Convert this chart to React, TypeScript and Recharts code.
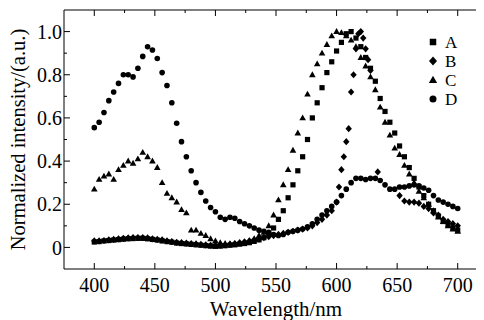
import React from 'react';
import { ScatterChart, Scatter, XAxis, YAxis, Legend } from 'recharts';

const wavelengths = [400,404,408,412,416,420,424,428,432,436,440,444,448,452,456,460,464,468,472,476,480,484,488,492,496,500,504,508,512,516,520,524,528,532,536,540,544,548,552,556,560,564,568,572,576,580,584,588,592,596,600,604,608,612,616,620,624,628,632,636,640,644,648,652,656,660,664,668,672,676,680,684,688,692,696,700];

const seriesA = [0.025,0.027,0.03,0.032,0.034,0.036,0.038,0.04,0.041,0.042,0.042,0.04,0.037,0.034,0.03,0.027,0.024,0.02,0.018,0.016,0.014,0.012,0.01,0.008,0.006,0.005,0.006,0.008,0.01,0.012,0.015,0.018,0.022,0.028,0.035,0.045,0.06,0.09,0.13,0.17,0.23,0.29,0.355,0.42,0.5,0.6,0.67,0.74,0.81,0.86,0.91,0.95,0.99,1.0,0.97,0.93,0.88,0.83,0.77,0.69,0.63,0.58,0.53,0.47,0.42,0.37,0.32,0.28,0.24,0.2,0.17,0.145,0.12,0.105,0.09,0.08];

const seriesC = [0.27,0.315,0.33,0.34,0.315,0.36,0.38,0.4,0.39,0.41,0.44,0.42,0.4,0.37,0.3,0.25,0.23,0.21,0.175,0.16,0.08,0.08,0.065,0.055,0.04,0.03,0.022,0.018,0.016,0.016,0.018,0.022,0.03,0.04,0.055,0.07,0.1,0.15,0.22,0.29,0.36,0.45,0.53,0.6,0.71,0.8,0.85,0.9,0.94,0.98,1.0,0.995,0.98,0.96,0.93,0.88,0.84,0.79,0.73,0.65,0.58,0.52,0.46,0.43,0.38,0.34,0.3,0.26,0.23,0.2,0.17,0.14,0.12,0.1,0.085,0.075];

const seriesD = [0.555,0.58,0.625,0.68,0.72,0.76,0.8,0.8,0.79,0.83,0.885,0.93,0.915,0.875,0.81,0.75,0.67,0.575,0.49,0.42,0.355,0.3,0.255,0.215,0.185,0.165,0.14,0.13,0.14,0.135,0.12,0.11,0.1,0.09,0.08,0.075,0.07,0.06,0.055,0.06,0.07,0.075,0.08,0.085,0.095,0.11,0.13,0.15,0.17,0.19,0.21,0.24,0.27,0.3,0.32,0.32,0.315,0.32,0.32,0.31,0.29,0.27,0.27,0.28,0.28,0.285,0.29,0.285,0.275,0.265,0.24,0.22,0.21,0.2,0.19,0.18];

const wavelengthsB = [400,404,408,412,416,420,424,428,432,436,440,444,448,452,456,460,464,468,472,476,480,484,488,492,496,500,504,508,512,516,520,524,528,532,536,540,544,548,552,556,560,564,568,572,576,580,584,588,592,596,600,602,604,606,608,610,612,614,616,618,620,622,624,626,628,634,652,656,660,664,668,672,676,680,684,688,692,696,700];

const seriesB = [0.03,0.03,0.032,0.035,0.037,0.04,0.042,0.044,0.046,0.046,0.046,0.044,0.04,0.037,0.035,0.03,0.027,0.024,0.022,0.02,0.018,0.016,0.014,0.012,0.01,0.01,0.01,0.012,0.015,0.018,0.022,0.026,0.03,0.035,0.04,0.045,0.05,0.055,0.06,0.065,0.07,0.075,0.08,0.085,0.09,0.1,0.115,0.13,0.15,0.17,0.21,0.28,0.36,0.42,0.49,0.55,0.72,0.8,0.92,0.99,1.0,0.97,0.92,0.87,0.82,0.35,0.24,0.215,0.21,0.21,0.205,0.19,0.18,0.16,0.15,0.13,0.12,0.11,0.1];

const xTicks = [400,425,450,475,500,525,550,575,600,625,650,675,700];
const yTicks = [0,0.1,0.2,0.3,0.4,0.5,0.6,0.7,0.8,0.9,1.0];
const seriesNames = ['A','B','C','D'];

const FONT = 'Liberation Serif, Tinos, DejaVu Serif, serif';
const INK = '#000';

const dataA = wavelengths.map((w, i) => ({ x: w, y: seriesA[i] }));
const dataB = wavelengthsB.map((w, i) => ({ x: w, y: seriesB[i] }));
const dataC = wavelengths.map((w, i) => ({ x: w, y: seriesC[i] }));
const dataD = wavelengths.map((w, i) => ({ x: w, y: seriesD[i] }));

const drawMarker = (name: string, cx: number, cy: number, s = 1) => {
  if (name === 'A') {
    const h = 2.6 * s;
    return <rect x={cx - h} y={cy - h} width={2 * h} height={2 * h} fill={INK} />;
  }
  if (name === 'B') {
    return <path d={`M${cx},${cy - 3.6 * s}L${cx + 3.2 * s},${cy}L${cx},${cy + 3.6 * s}L${cx - 3.2 * s},${cy}Z`} fill={INK} />;
  }
  if (name === 'C') {
    return <path d={`M${cx},${cy - 3.5 * s}L${cx + 3.3 * s},${cy + 2.4 * s}L${cx - 3.3 * s},${cy + 2.4 * s}Z`} fill={INK} />;
  }
  return <circle cx={cx} cy={cy} r={2.8 * s} fill={INK} />;
};

const shapeFor = (name: string) => (p: any) => {
  if (p.cx == null || p.cy == null) return <g />;
  return drawMarker(name, p.cx, p.cy);
};

const XTick = (p: any) => {
  const v = p.payload.value;
  const major = v % 50 === 0;
  const ay = p.y - 9;
  return (
    <g>
      <line x1={p.x} x2={p.x} y1={ay} y2={ay - (major ? 6 : 3)} stroke={INK} strokeWidth={1} />
      {major && (
        <text x={p.x} y={p.y} dy="0.71em" textAnchor="middle" fontSize={20} fill={INK} style={{ fontFamily: FONT }}>
          {v}
        </text>
      )}
    </g>
  );
};

const TopTick = (p: any) => {
  const v = p.payload.value;
  const major = v % 50 === 0;
  return <line x1={p.x} x2={p.x} y1={p.y} y2={p.y + (major ? 6 : 3)} stroke={INK} strokeWidth={1} />;
};

const YTick = (p: any) => {
  const v = p.payload.value;
  const major = Math.round(v * 10) % 2 === 0;
  const ax = p.x + 2;
  return (
    <g>
      <line x1={ax} x2={ax + (major ? 6 : 3)} y1={p.y} y2={p.y} stroke={INK} strokeWidth={1} />
      {major && (
        <text x={p.x} y={p.y} dy="0.355em" textAnchor="end" fontSize={20} fill={INK} style={{ fontFamily: FONT }}>
          {v === 0 ? '0' : v.toFixed(1)}
        </text>
      )}
    </g>
  );
};

const LegendContent = () => (
  <svg width={56} height={86} style={{ overflow: 'visible' }}>
    {seriesNames.map((n, i) => {
      const cy = 10 + i * 19;
      return (
        <g key={n}>
          {drawMarker(n, 5, cy, 1.25)}
          <text x={17} y={cy} dy="0.355em" fontSize={17} fill={INK} style={{ fontFamily: FONT }}>
            {n}
          </text>
        </g>
      );
    })}
  </svg>
);

export default function App() {
  return (
    <div style={{ width: 476, height: 312, overflow: 'hidden', position: 'relative', fontFamily: FONT }}>
      <ScatterChart width={484} height={312} margin={{ top: 0, right: 4, bottom: 0, left: 0 }} style={{ fontFamily: FONT }}>
        <XAxis
          type="number"
          dataKey="x"
          domain={[375, 725]}
          ticks={xTicks}
          interval={0}
          allowDataOverflow
          height={51}
          tickSize={0}
          tickMargin={9}
          tickLine={false}
          axisLine={{ stroke: INK, strokeWidth: 1 }}
          tick={<XTick />}
          label={{ value: 'Wavelength/nm', position: 'insideBottom', offset: 4, style: { fontSize: 21, fontFamily: FONT, fill: INK } }}
        />
        <XAxis
          xAxisId="top"
          orientation="top"
          type="number"
          dataKey="x"
          domain={[375, 725]}
          ticks={xTicks}
          interval={0}
          allowDataOverflow
          height={2}
          tickSize={0}
          tickMargin={0}
          tickLine={false}
          axisLine={{ stroke: INK, strokeWidth: 1 }}
          tick={<TopTick />}
        />
        <YAxis
          type="number"
          dataKey="y"
          domain={[-0.1, 1.1]}
          ticks={yTicks}
          interval={0}
          allowDataOverflow
          width={56}
          tickSize={0}
          tickMargin={2}
          tickLine={false}
          axisLine={{ stroke: INK, strokeWidth: 1 }}
          tick={<YTick />}
          label={{ value: 'Normalized intensity/(a.u.)', angle: -90, position: 'insideLeft', offset: 10, style: { fontSize: 20.5, fontFamily: FONT, fill: INK, textAnchor: 'middle' } }}
        />
        <Legend
          layout="horizontal"
          verticalAlign="middle"
          align="center"
          content={<LegendContent />}
          wrapperStyle={{ position: 'absolute', left: 420, top: 24, width: 56, height: 86 }}
        />
        <Scatter name="A" data={dataA} shape={shapeFor('A')} isAnimationActive={false} />
        <Scatter name="B" data={dataB} shape={shapeFor('B')} isAnimationActive={false} />
        <Scatter name="C" data={dataC} shape={shapeFor('C')} isAnimationActive={false} />
        <Scatter name="D" data={dataD} shape={shapeFor('D')} isAnimationActive={false} />
      </ScatterChart>
    </div>
  );
}
